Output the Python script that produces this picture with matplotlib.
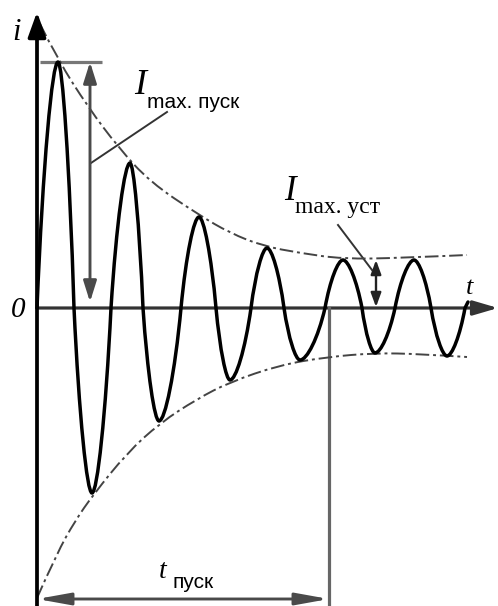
import matplotlib
matplotlib.use("Agg")
import matplotlib.pyplot as plt
from matplotlib.path import Path
from matplotlib.patches import PathPatch

# Starting current of a motor: oscillation inside two decaying envelopes.
# t runs along the time axis, i is the current (origin at the axis crossing).

# zero crossings of the current, and the tips (peaks / troughs) between them
cross_t = [0, 37, 74, 106, 144, 179, 214, 247, 288, 325, 358, 394, 428]
tip_t = [21, 55, 93, 122, 162, 193, 230, 263, 306, 338, 377, 410]
tip_i = [246, -185, 145, -113, 91, -72, 60, -52, 48, -45, 48, -48]
end_t, end_i = 431, 6

# envelope curves (dash-dot)
upper_t = [3, 21, 51, 81, 113, 162, 193, 226, 263, 306, 363, 430]
upper_i = [284, 248, 201, 161, 126, 93, 75, 62, 55, 49, 50, 53]
lower_t = [0, 20, 38, 56, 90, 123, 160, 193, 243, 290, 338, 383, 430]
lower_i = [-290, -245, -213, -187, -145, -115, -91, -74, -57, -49, -45, -46, -49]

i_start = 246    # I max. пуск
i_steady = 48    # I max. уст
t_start = 292    # t пуск

serif = "Liberation Serif"
sans = "Liberation Sans"


def smooth_path(ts, vals):
    # quadratic pieces: read points as controls, midpoints on the curve
    pts = list(zip(ts, vals))
    verts = [pts[0]]
    codes = [Path.MOVETO]
    for k in range(1, len(pts) - 1):
        mid = ((pts[k][0] + pts[k + 1][0]) / 2, (pts[k][1] + pts[k + 1][1]) / 2)
        if k == len(pts) - 2:
            mid = pts[-1]
        verts += [pts[k], mid]
        codes += [Path.CURVE3, Path.CURVE3]
    return Path(verts, codes)


fig = plt.figure(figsize=(4.98, 6.06), dpi=100)
ax = fig.add_axes([0, 0, 1, 1])
ax.set_xlim(-37, 461)
ax.set_ylim(-298, 308)
ax.axis("off")

# current curve, each quarter wave as a cubic bezier with a flat, round tip
verts = [(cross_t[0], 0)]
codes = [Path.MOVETO]
for k in range(len(tip_t)):
    z0, z1 = cross_t[k], cross_t[k + 1]
    tp, ip = tip_t[k], tip_i[k]
    d1 = tp - z0
    d2 = z1 - tp
    verts += [(z0 + 0.28 * d1, 0.58 * ip), (z0 + 0.72 * d1, ip), (tp, ip)]
    verts += [(tp + 0.28 * d2, ip), (tp + 0.72 * d2, 0.58 * ip), (z1, 0)]
    codes += [Path.CURVE4] * 6
verts.append((end_t, end_i))
codes.append(Path.LINETO)
ax.add_patch(PathPatch(Path(verts, codes), fill=False, lw=2.5, edgecolor="black",
                       capstyle="round", joinstyle="round", zorder=4))

# envelopes
for ts, vals in [(upper_t, upper_i), (lower_t, lower_i)]:
    ax.add_patch(PathPatch(smooth_path(ts, vals), fill=False, edgecolor="#444444",
                           lw=1.4, linestyle=(0, (7, 2, 1.5, 2)), zorder=3))

# axes with arrows
ax.annotate("", xy=(0, 296), xytext=(0, -298),
            arrowprops=dict(arrowstyle="-|>,head_length=0.75,head_width=0.27",
                            mutation_scale=20, lw=2.7, color="black",
                            shrinkA=0, shrinkB=0), zorder=5)
ax.annotate("", xy=(461, 0), xytext=(0, 0),
            arrowprops=dict(arrowstyle="-|>,head_length=0.75,head_width=0.22",
                            mutation_scale=20, lw=2.3, color="#333333",
                            shrinkA=0, shrinkB=0), zorder=2)

# I max. пуск: reference line and dimension arrow
ax.plot([3, 65], [i_start, i_start], color="#777777", lw=2.3, solid_capstyle="butt")
ax.annotate("", xy=(53, i_start), xytext=(53, 6),
            arrowprops=dict(arrowstyle="<|-|>,head_length=0.7,head_width=0.22",
                            mutation_scale=18, lw=2.1, color="#4a4a4a",
                            shrinkA=0, shrinkB=0))
ax.plot([130, 54], [196, 145], color="#333333", lw=1.4)

# I max. уст dimension arrow
ax.annotate("", xy=(339, i_steady), xytext=(339, 1),
            arrowprops=dict(arrowstyle="<|-|>,head_length=0.6,head_width=0.22",
                            mutation_scale=14, lw=1.7, color="#222222",
                            shrinkA=0, shrinkB=0))
ax.plot([301, 335], [83, 38], color="#333333", lw=1.4)

# t пуск
ax.plot([t_start, t_start], [0, -298], color="#666666", lw=2.3)
ax.annotate("", xy=(0, -291), xytext=(t_start, -291),
            arrowprops=dict(arrowstyle="<|-|>,head_length=1.0,head_width=0.18",
                            mutation_scale=20, lw=2.1, color="#4a4a4a",
                            shrinkA=0, shrinkB=0))

# labels
ax.text(-20, 275, "i", family=serif, style="italic", fontsize=22, ha="center", va="center")
ax.text(-19, -2, "0", family=serif, style="italic", fontsize=21, ha="center", va="center")
ax.text(433, 20, "t", family=serif, style="italic", fontsize=19, ha="center", va="center")

ax.text(103, 222, "I", family=serif, style="italic", fontsize=26, ha="center", va="center")
ax.text(110, 205, "max. пуск", family=sans, fontsize=15, ha="left", va="center")

ax.text(253, 116, "I", family=serif, style="italic", fontsize=25, ha="center", va="center")
ax.text(258, 100, "max. уст", family=serif, fontsize=17, ha="left", va="center")

ax.text(126, -264, "t", family=serif, style="italic", fontsize=20, ha="center", va="center")
ax.text(136, -274, "пуск", family=sans, fontsize=15, ha="left", va="center")

fig.savefig("out.png", dpi=100)
